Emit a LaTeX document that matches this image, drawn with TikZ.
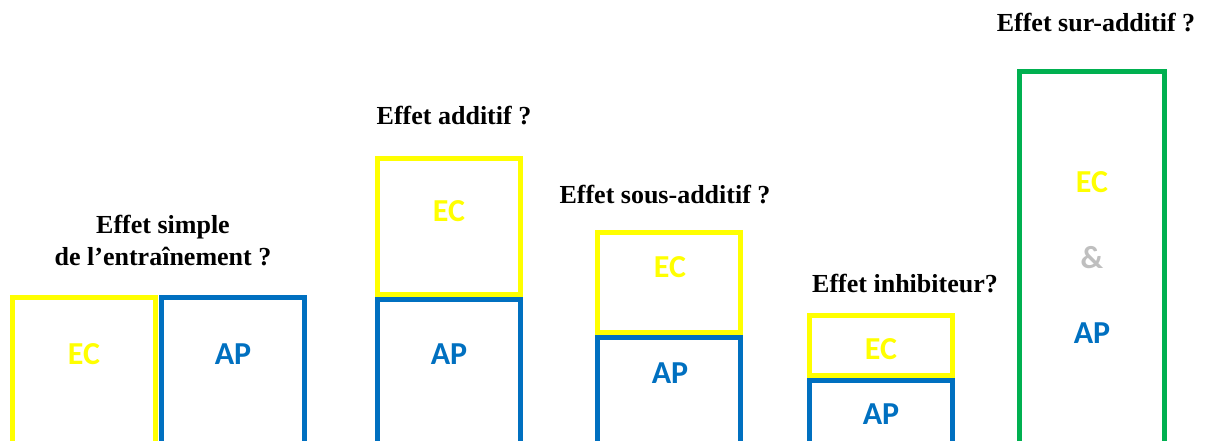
\documentclass[tikz,border=0pt]{standalone}
\usepackage{fontspec}
\setmainfont{Liberation Serif}
\newfontfamily\lblfont{Carlito}
\definecolor{ecyellow}{RGB}{255,255,0}
\definecolor{apblue}{RGB}{0,112,192}
\definecolor{bothgreen}{RGB}{0,176,80}
\definecolor{andgray}{RGB}{191,191,191}
\tikzset{
  box/.style={draw,line width=5pt,inner sep=0pt,anchor=north west,minimum width=143pt},
  ecbox/.style={box,ecyellow},
  apbox/.style={box,apblue},
  lbl/.style={font=\lblfont\bfseries\fontsize{32}{36}\selectfont,inner sep=0pt},
  effet/.style={font=\bfseries\fontsize{26}{32}\selectfont,align=center,anchor=base,inner sep=0pt}
}
\begin{document}
\begin{tikzpicture}[x=1pt,y=-1pt]
  \useasboundingbox (0,0) rectangle (1210,440);
  \clip (0,0) rectangle (1210,440);
  % simple
  \node[ecbox,minimum height=160pt] (ec1) at (10,295) {};
  \node[apbox,minimum height=160pt] (ap1) at (159,295) {};
  \node[lbl,ecyellow] (ec1t) at (84,354) {EC};
  \node[lbl,apblue] (ap1t) at (233,354) {AP};
  \node[effet] (t1) at (163,265) {Effet simple\\de l'entraînement ?};
  % additif
  \node[ecbox,minimum height=136pt] (ec2) at (375,156) {};
  \node[apbox,minimum height=160pt] (ap2) at (375,297) {};
  \node[lbl,ecyellow] (ec2t) at (449,211) {EC};
  \node[lbl,apblue] (ap2t) at (449,354) {AP};
  \node[effet] (t2) at (454,124) {Effet additif ?};
  % sous-additif
  \node[ecbox,minimum height=100pt] (ec3) at (595,230) {};
  \node[apbox,minimum height=120pt] (ap3) at (595,335) {};
  \node[lbl,ecyellow] (ec3t) at (670,267) {EC};
  \node[lbl,apblue] (ap3t) at (670,373) {AP};
  \node[effet] (t3) at (665,203) {Effet sous-additif ?};
  % inhibiteur
  \node[ecbox,minimum height=60pt] (ec4) at (807,313) {};
  \node[apbox,minimum height=80pt] (ap4) at (807,378) {};
  \node[lbl,ecyellow] (ec4t) at (881,349) {EC};
  \node[lbl,apblue] (ap4t) at (881,414) {AP};
  \node[effet] (t4) at (905,292) {Effet inhibiteur?};
  % sur-additif
  \node[box,bothgreen,minimum width=145pt,minimum height=390pt] (ea5) at (1017,69) {};
  \node[lbl,ecyellow] (ec5t) at (1092,182) {EC};
  \node[lbl,andgray] (and5t) at (1092,258) {\&};
  \node[lbl,apblue] (ap5t) at (1092,333) {AP};
  \node[effet] (t5) at (1096,31) {Effet sur-additif ?};
\end{tikzpicture}
\end{document}
